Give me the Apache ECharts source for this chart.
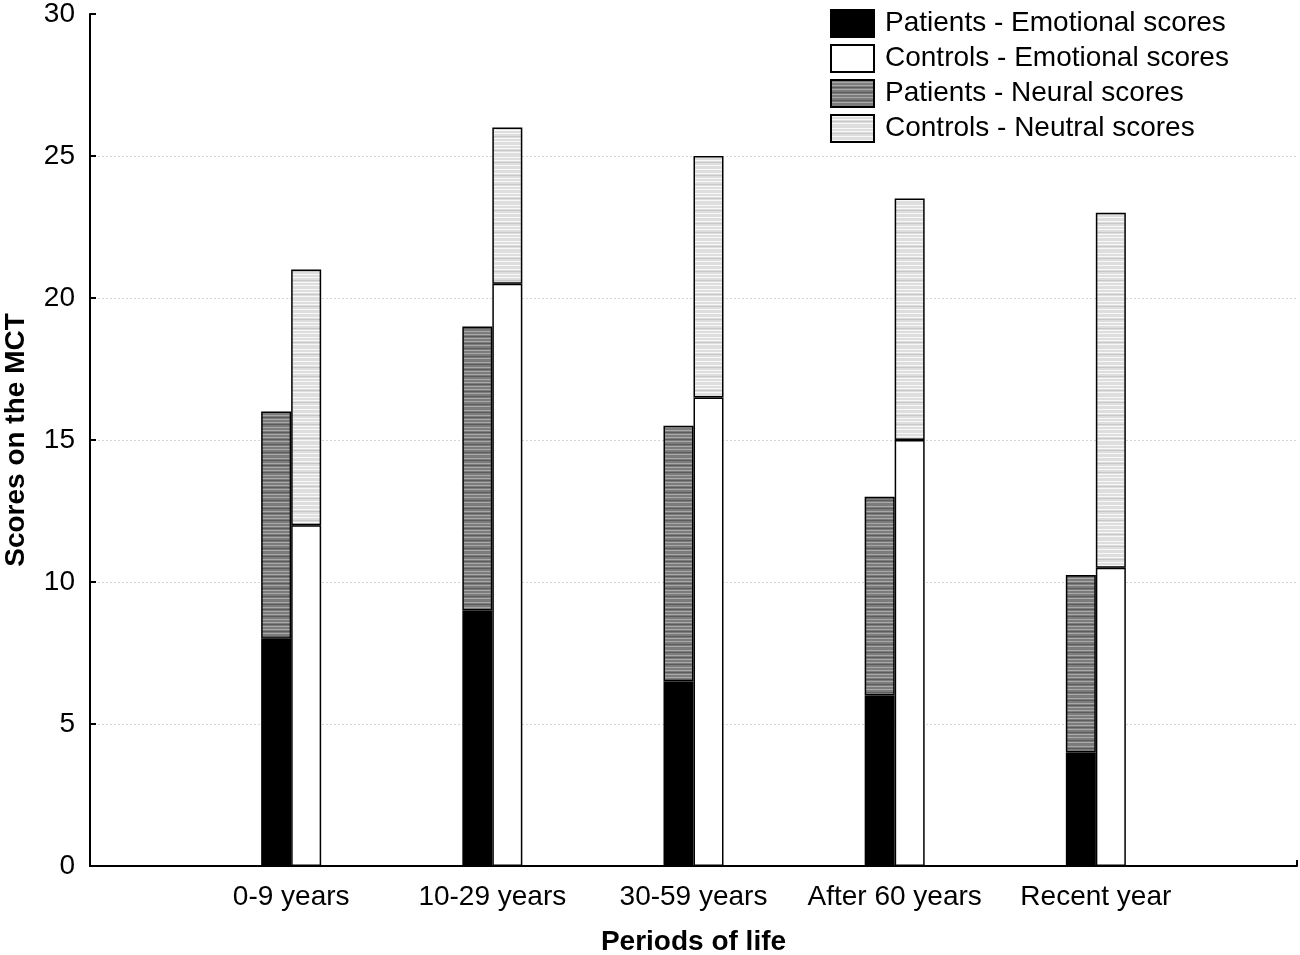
<!DOCTYPE html>
<html>
<head>
<meta charset="utf-8">
<script src="https://cdn.jsdelivr.net/npm/echarts@6/dist/echarts.min.js"></script>
<style>
  html, body { margin: 0; padding: 0; background: #fff; }
  #chart { width: 1300px; height: 955px; }
</style>
</head>
<body>
<div id="chart"></div>
<script>
// ---- Data ----
const periods = ['0-9 years', '10-29 years', '30-59 years', 'After 60 years', 'Recent year'];
const patientsEmotional = [8, 9, 6.5, 6, 4];
const controlsEmotional = [12, 20.5, 16.5, 15, 10.5];
// neutral segments stacked on top of the emotional ones
const patientsNeutral = [8, 10, 9, 7, 6.25];
const controlsNeutral = [9, 5.5, 8.5, 8.5, 12.5];
const yTicks = [0, 5, 10, 15, 20, 25, 30];

const seriesNames = ['Patients - Emotional scores', 'Controls - Emotional scores',
                     'Patients - Neural scores', 'Controls - Neutral scores'];

// padded category axis: empty slot on each side
const cats = [''].concat(periods, ['']);
const pad = arr => [null].concat(arr, [null]);

// horizontal hatch patterns
function makePattern(base, light, dark, lightRows, darkRows) {
  const c = document.createElement('canvas');
  c.width = 8; c.height = 48;
  const g = c.getContext('2d');
  g.fillStyle = base; g.fillRect(0, 0, 8, 48);
  g.fillStyle = light;
  lightRows.forEach(r => g.fillRect(0, r, 8, 1));
  g.fillStyle = dark;
  darkRows.forEach(r => g.fillRect(0, r, 8, 1));
  return { image: c, repeat: 'repeat' };
}
const darkHatch = makePattern('#7c7c7c', '#a8a8a8', '#5c5c5c',
  [2, 5, 9, 14, 17, 22, 26, 31, 35, 38, 43, 46], [0, 7, 12, 20, 28, 33, 40]);
const lightHatch = makePattern('#dedede', '#f8f8f8', '#c8c8c8',
  [1, 4, 8, 13, 16, 21, 25, 29, 34, 37, 42, 45], [6, 18, 31, 40]);

const border = { borderColor: '#000', borderWidth: 1.5 };

const chart = echarts.init(document.getElementById('chart'));
chart.setOption({
  animation: false,
  backgroundColor: '#fff',
  textStyle: { fontFamily: 'Liberation Sans, Arial, sans-serif', color: '#000' },
  grid: { left: 90, right: 3, top: 14, bottom: 89, containLabel: false, outerBoundsMode: 'none' },
  legend: {
    orient: 'vertical',
    left: 830, top: 9,
    padding: 0,
    icon: 'rect',
    itemWidth: 43, itemHeight: 27, itemGap: 6,
    textStyle: { fontSize: 28, color: '#000', lineHeight: 27, padding: [0, 0, 0, 6] },
    data: seriesNames
  },
  xAxis: {
    type: 'category',
    data: cats,
    boundaryGap: false,
    name: 'Periods of life',
    nameLocation: 'middle',
    nameGap: 62,
    nameTextStyle: { fontSize: 28, fontWeight: 'bold', color: '#000' },
    axisLine: { lineStyle: { color: '#000', width: 2 } },
    axisTick: {
      show: true, inside: true, length: 6,
      interval: (i) => i === cats.length - 1,
      lineStyle: { color: '#000', width: 2 }
    },
    axisLabel: { fontSize: 28, color: '#000', margin: 17, interval: 0 },
    splitLine: { show: false }
  },
  yAxis: {
    type: 'value',
    min: yTicks[0], max: yTicks[yTicks.length - 1], interval: 5,
    name: 'Scores on the MCT',
    nameLocation: 'middle',
    nameGap: 60,
    nameTextStyle: { fontSize: 28, fontWeight: 'bold', color: '#000' },
    axisLine: { show: true, lineStyle: { color: '#000', width: 2 } },
    axisTick: { show: true, inside: true, length: 6, lineStyle: { color: '#000', width: 2 } },
    axisLabel: { fontSize: 28, color: '#000', margin: 15 },
    splitLine: {
      show: true, showMinLine: false, showMaxLine: false,
      lineStyle: { color: '#d6d6d6', type: [2, 2], width: 1 }
    }
  },
  series: [
    { name: seriesNames[0], type: 'bar', stack: 'patients', barWidth: 30, barGap: '0%',
      data: pad(patientsEmotional), itemStyle: Object.assign({ color: '#000' }, border) },
    { name: seriesNames[1], type: 'bar', stack: 'controls', barWidth: 30, barGap: '0%',
      data: pad(controlsEmotional), itemStyle: Object.assign({ color: '#fff' }, border) },
    { name: seriesNames[2], type: 'bar', stack: 'patients', barWidth: 30, barGap: '0%',
      data: pad(patientsNeutral), itemStyle: Object.assign({ color: darkHatch }, border) },
    { name: seriesNames[3], type: 'bar', stack: 'controls', barWidth: 30, barGap: '0%',
      data: pad(controlsNeutral), itemStyle: Object.assign({ color: lightHatch }, border) }
  ]
});
</script>
</body>
</html>
